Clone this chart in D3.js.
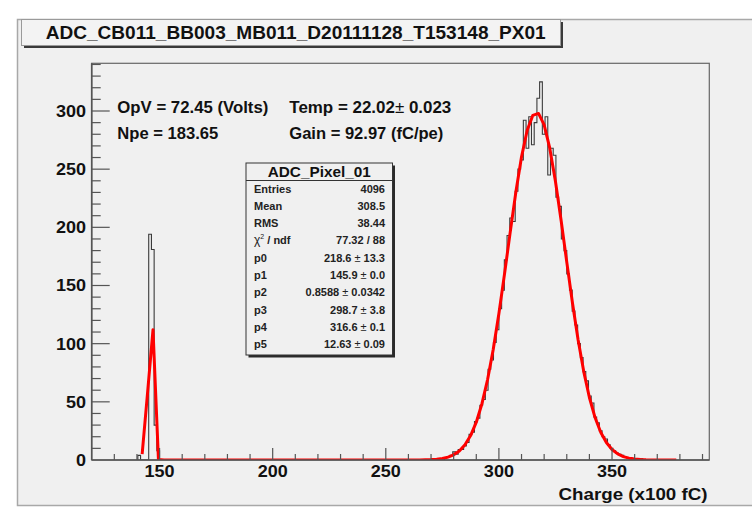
<!DOCTYPE html>
<html><head><meta charset="utf-8">
<script src="https://cdn.jsdelivr.net/npm/d3@7"></script>
<style>
body{margin:0;background:#fff;}
svg{display:block;font-family:"Liberation Sans",Arial,Helvetica,sans-serif;}
</style>
</head><body>
<svg id="c" width="752" height="509"></svg>
<script>
// ---------------- data ----------------
const chartTitle = "ADC_CB011_BB003_MB011_D20111128_T153148_PX01";
const xAxisTitle = "Charge (x100 fC)";
const xDomain = [120, 393];
const yDomain = [0, 341];
const xMajorTicks = [150, 200, 250, 300, 350];
const yMajorTicks = [0, 50, 100, 150, 200, 250, 300];
const binWidth = 1.2;
const leftPeakStart = 140.4;
const leftPeakCounts = [4, 0, 0, 0, 194, 181, 30, 8];
const rightPeakStart = 272.4;
const rightPeakCounts = [
  0, 1, 0, 2, 3, 4, 7, 5, 9, 9,
  12, 15, 22, 24, 33, 36, 47, 52, 60, 78,
  86, 101, 112, 130, 146, 172, 193, 208, 205, 231,
  250, 258, 292, 268, 295, 271, 290, 311, 325, 280,
  295, 245, 268, 262, 226, 218, 190, 180, 160, 146,
  128, 116, 100, 88, 76, 68, 55, 49, 37, 32,
  25, 20, 18, 13, 10, 8, 6, 5, 4, 3,
  2, 2, 1, 1, 0, 1, 0
];
const fitX = [142.3, 144.7, 147.1, 149.5, 151.9,
  260, 262.5, 265, 267.5, 270, 272.5, 275, 277.5, 280, 282.5, 285, 287.5, 290, 292.5, 295, 297.5,
  300, 302.5, 305, 307.5, 310, 312.5, 315, 317.5, 320, 322.5, 325, 327.5, 330, 332.5, 335, 337.5,
  340, 342.5, 345, 347.5, 350, 352.5, 355, 357.5, 360, 362.5, 365, 367.5, 370, 372.5, 375, 377.5, 378.4];
const fitY = [5, 58, 112, 0.5, 0,
  0.01, 0.03, 0.07, 0.16, 0.33, 0.67, 1.32, 2.48, 4.48, 7.8, 13.1, 21.0, 32.5, 48.4, 69.2, 95.2,
  125.9, 160.2, 195.9, 230.4, 260.6, 283.4, 296.3, 297.9, 288.1, 267.8, 239.4, 205.8, 170.1, 135.2, 103.4, 76.0,
  53.7, 36.5, 23.8, 15.0, 9.06, 5.26, 2.94, 1.58, 0.82, 0.40, 0.19, 0.09, 0.04, 0.02, 0.01, 0.0, 0.0];
const infoLines = [
  ["OpV = 72.45 (Volts)", null],
  ["Temp = 22.02", "0.023"],
  ["Npe = 183.65", null],
  ["Gain = 92.97 (fC/pe)", null]
];
const statsTitle = "ADC_Pixel_01";
const statLabels = ["Entries", "Mean", "RMS", "chi2", "p0", "p1", "p2", "p3", "p4", "p5"];
const statValues = [["4096"], ["308.5"], ["38.44"], ["77.32 / 88"], ["218.6", "13.3"], ["145.9", "0.0"],
  ["0.8588", "0.0342"], ["298.7", "3.8"], ["316.6", "0.1"], ["12.63", "0.09"]];

// ---------------- drawing ----------------
const svg = d3.select("#c");
const frame = {l: 91.7, r: 709.3, t: 63.3, b: 460};
const x = d3.scaleLinear().domain(xDomain).range([frame.l, frame.r]);
const y = d3.scaleLinear().domain(yDomain).range([frame.b, frame.t]);

function stretch(sel, width) {
  sel.attr("textLength", width).attr("lengthAdjust", "spacingAndGlyphs");
}
function stretchBy(sel, k) {
  sel.each(function() {
    const l = this.getComputedTextLength();
    d3.select(this).attr("textLength", l * k).attr("lengthAdjust", "spacingAndGlyphs");
  });
}

// canvas
svg.append("rect").attr("x", 17.5).attr("y", 19.5).attr("width", 745).attr("height", 486)
  .attr("fill", "#f0f0f0").attr("stroke", "#a8a8a8").attr("stroke-width", 1.5);

// title box
svg.append("rect").attr("x", 24).attr("y", 22).attr("width", 539).attr("height", 26).attr("fill", "#3a3a3a");
svg.append("rect").attr("x", 21.5).attr("y", 19.5).attr("width", 539).attr("height", 26)
  .attr("fill", "#f3f3f3").attr("stroke", "#9a9a9a").attr("stroke-width", 1);
svg.append("text").attr("x", 295.7).attr("y", 39).attr("text-anchor", "middle")
  .attr("font-size", 18).attr("font-weight", "bold").attr("fill", "#111")
  .text(chartTitle).call(stretch, 500);

// frame
svg.append("rect").attr("x", frame.l).attr("y", frame.t).attr("width", frame.r - frame.l)
  .attr("height", frame.b - frame.t).attr("fill", "none").attr("stroke", "#666").attr("stroke-width", 1.2);

const clip = svg.append("clipPath").attr("id", "clp").append("rect")
  .attr("x", frame.l).attr("y", frame.t).attr("width", frame.r - frame.l).attr("height", frame.b - frame.t);

// histogram
function stepPoints(start, counts) {
  const pts = [[start, 0]];
  counts.forEach((c, i) => {
    const e = start + i * binWidth;
    pts.push([e, c]);
    pts.push([e + binWidth, c]);
  });
  pts.push([start + counts.length * binWidth, 0]);
  return pts;
}
const line = d3.line().x(d => x(d[0])).y(d => y(d[1]));
const hg = svg.append("g").attr("clip-path", "url(#clp)");
[[leftPeakStart, leftPeakCounts], [rightPeakStart, rightPeakCounts]].forEach(([s, c]) => {
  hg.append("path").attr("d", line(stepPoints(s, c))).attr("fill", "none")
    .attr("stroke", "#3a3a3a").attr("stroke-width", 1.1);
});

// fit
const fitPts = fitX.map((v, i) => [v, fitY[i]]);
hg.append("path").attr("d", line(fitPts)).attr("fill", "none")
  .attr("stroke", "#ff0000").attr("stroke-width", 3).attr("stroke-linejoin", "round");

// axes
const axisCol = "#555";
const ax = svg.append("g");
ax.append("line").attr("x1", frame.l).attr("x2", frame.r).attr("y1", frame.b).attr("y2", frame.b)
  .attr("stroke", axisCol).attr("stroke-width", 1.6);
ax.append("line").attr("x1", frame.l).attr("x2", frame.l).attr("y1", frame.t).attr("y2", frame.b)
  .attr("stroke", axisCol).attr("stroke-width", 1.6);
const xMinor = d3.range(130, 393, 10);
xMinor.forEach(v => {
  const major = xMajorTicks.includes(v);
  ax.append("line").attr("x1", x(v)).attr("x2", x(v)).attr("y1", frame.b).attr("y2", frame.b - (major ? 12 : 6))
    .attr("stroke", axisCol).attr("stroke-width", 1.2);
});
const yMinor = d3.range(10, 341, 10);
yMinor.forEach(v => {
  const major = yMajorTicks.includes(v);
  ax.append("line").attr("x1", frame.l).attr("x2", frame.l + (major ? 18 : 9)).attr("y1", y(v)).attr("y2", y(v))
    .attr("stroke", axisCol).attr("stroke-width", 1.2);
});
ax.selectAll(".xl").data(xMajorTicks).enter().append("text")
  .attr("x", d => x(d)).attr("y", 477).attr("text-anchor", "middle")
  .attr("font-size", 17).attr("font-weight", "bold").attr("fill", "#111").text(d => d)
  .call(stretchBy, 1.06);
ax.selectAll(".yl").data(yMajorTicks).enter().append("text")
  .attr("x", 86).attr("y", d => y(d) + 6).attr("text-anchor", "end")
  .attr("font-size", 17).attr("font-weight", "bold").attr("fill", "#111").text(d => d)
  .call(stretchBy, 1.06);
svg.append("text").attr("x", 707.5).attr("y", 500).attr("text-anchor", "end")
  .attr("font-size", 17).attr("font-weight", "bold").attr("fill", "#111").text(xAxisTitle)
  .call(stretch, 149);

// info text
const infoPos = [[117.3, 113, 151], [289.3, 113, 162], [117.3, 139, 101], [289.3, 139, 154]];
infoLines.forEach((ln, i) => {
  const [px, py, w] = infoPos[i];
  const t = svg.append("text").attr("x", px).attr("y", py).attr("font-size", 16.5)
    .attr("font-weight", "bold").attr("fill", "#111");
  t.append("tspan").text(ln[0]);
  if (ln[1] !== null) {
    t.append("tspan").attr("font-weight", "normal").text("\u00B1 ");
    t.append("tspan").text(ln[1]);
  }
  stretch(t, w);
});

// stats box
const sb = {l: 246, r: 392.5, t: 163, b: 355};
svg.append("rect").attr("x", sb.l + 2.5).attr("y", sb.t + 2.5).attr("width", sb.r - sb.l).attr("height", sb.b - sb.t)
  .attr("fill", "#2a2a2a");
svg.append("rect").attr("x", sb.l).attr("y", sb.t).attr("width", sb.r - sb.l).attr("height", sb.b - sb.t)
  .attr("fill", "#f0f0f0").attr("stroke", "#333").attr("stroke-width", 1);
svg.append("line").attr("x1", sb.l).attr("x2", sb.r).attr("y1", 180.5).attr("y2", 180.5)
  .attr("stroke", "#333").attr("stroke-width", 1);
svg.append("text").attr("x", (sb.l + sb.r) / 2).attr("y", 176.5).attr("text-anchor", "middle")
  .attr("font-size", 15).attr("font-weight", "bold").attr("fill", "#111").text(statsTitle)
  .call(stretch, 103);
statLabels.forEach((lab, i) => {
  const yy = 192.5 + i * 17.3;
  const t = svg.append("text").attr("x", 254).attr("y", yy).attr("font-size", 11)
    .attr("font-weight", "bold").attr("fill", "#222");
  if (lab === "chi2") {
    t.append("tspan").attr("font-weight", "normal").attr("font-size", 12).text("\u03C7");
    t.append("tspan").attr("font-size", 7).attr("dy", -5).attr("font-weight", "normal").text("2");
    t.append("tspan").attr("dy", 5).text(" / ndf");
  } else {
    t.text(lab);
  }
  const v = statValues[i];
  const tv = svg.append("text").attr("x", 385).attr("y", yy).attr("text-anchor", "end")
    .attr("font-size", 11).attr("font-weight", "bold").attr("fill", "#222");
  tv.append("tspan").text(v[0]);
  if (v.length > 1) {
    tv.append("tspan").attr("font-weight", "normal").text(" \u00B1 ");
    tv.append("tspan").text(v[1]);
  }
});
</script>
</body></html>
